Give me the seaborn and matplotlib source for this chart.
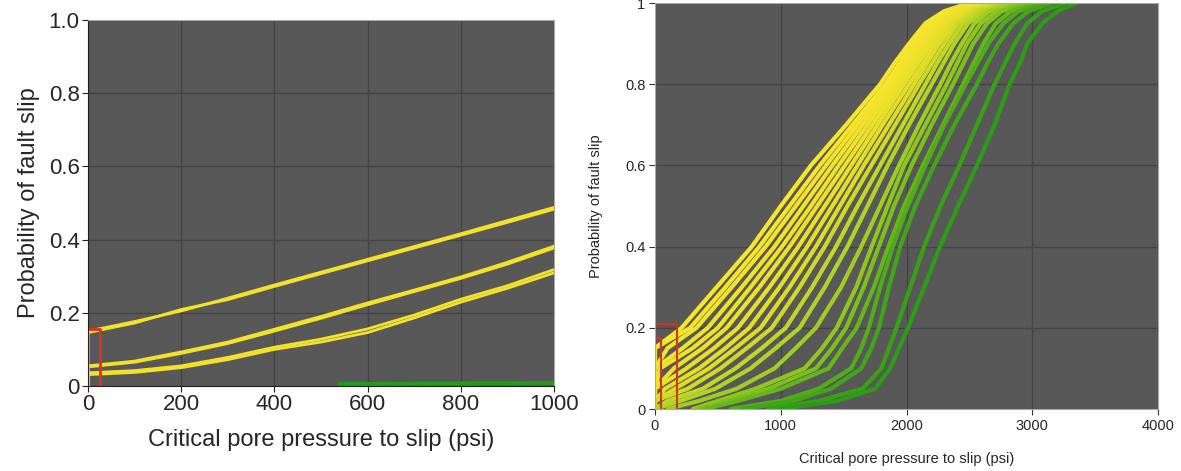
import numpy as np
import pandas as pd
import matplotlib
matplotlib.use("Agg")
import matplotlib.pyplot as plt
import seaborn as sns

# ---- left panel: three bundles of yellow curves (psi vs probability)
left_x = [0, 100, 200, 300, 400, 500, 600, 700, 800, 900, 1000]
left_top_a = [0.150, 0.176, 0.205, 0.240, 0.276, 0.311, 0.346, 0.381, 0.416, 0.452, 0.488]
left_top_b = [0.146, 0.172, 0.209, 0.236, 0.272, 0.307, 0.342, 0.377, 0.412, 0.447, 0.483]
left_mid_a = [0.055, 0.068, 0.093, 0.120, 0.155, 0.190, 0.227, 0.262, 0.298, 0.338, 0.382]
left_mid_b = [0.052, 0.065, 0.089, 0.116, 0.150, 0.185, 0.222, 0.258, 0.294, 0.333, 0.377]
left_low_a = [0.036, 0.042, 0.055, 0.078, 0.106, 0.128, 0.156, 0.194, 0.237, 0.274, 0.318]
left_low_b = [0.031, 0.037, 0.050, 0.072, 0.100, 0.120, 0.146, 0.186, 0.229, 0.267, 0.309]
left_green_x = [540, 1000]
left_green_y = [0.005, 0.008]
left_box = (25, 0.155)

# ---- right panel: x (psi) at each probability level for every curve
p_levels = [0.0, 0.02, 0.05, 0.1, 0.15, 0.2, 0.3, 0.4, 0.5, 0.6, 0.7, 0.8, 0.85, 0.9, 0.95, 0.98, 1.0]
right_curves = {
    "Y01": [0, 0, 0, 0, 0, 212, 490, 770, 1000, 1240, 1520, 1790, 1900, 2020, 2150, 2300, 2500],
    "Y02": [0, 0, 0, 0, 0, 280, 560, 830, 1070, 1310, 1570, 1830, 1940, 2050, 2180, 2330, 2540],
    "Y03": [0, 0, 0, 0, 100, 330, 610, 880, 1120, 1360, 1610, 1860, 1970, 2080, 2210, 2350, 2570],
    "Y04": [0, 0, 0, 0, 220, 420, 690, 950, 1180, 1410, 1650, 1890, 2000, 2110, 2240, 2380, 2600],
    "Y05": [0, 0, 0, 40, 300, 500, 760, 1010, 1240, 1460, 1690, 1920, 2030, 2140, 2260, 2400, 2630],
    "Y06": [0, 0, 0, 150, 380, 570, 830, 1070, 1290, 1510, 1730, 1950, 2060, 2170, 2290, 2430, 2650],
    "Y07": [0, 0, 0, 250, 470, 660, 910, 1140, 1350, 1560, 1770, 1980, 2090, 2200, 2320, 2460, 2680],
    "Y08": [0, 0, 80, 350, 560, 750, 990, 1210, 1410, 1610, 1810, 2020, 2130, 2230, 2350, 2490, 2700],
    "Y09": [0, 0, 160, 430, 640, 840, 1070, 1280, 1470, 1660, 1860, 2060, 2160, 2260, 2380, 2510, 2720],
    "Y10": [0, 0, 260, 520, 730, 930, 1150, 1350, 1530, 1720, 1910, 2100, 2200, 2300, 2410, 2540, 2750],
    "Y11": [0, 100, 380, 640, 850, 1040, 1250, 1440, 1610, 1790, 1970, 2150, 2240, 2340, 2450, 2580, 2780],
    "Y12": [0, 200, 480, 760, 960, 1150, 1350, 1530, 1690, 1850, 2020, 2200, 2290, 2380, 2490, 2620, 2820],
    "YG1": [100, 350, 650, 950, 1120, 1280, 1480, 1640, 1790, 1940, 2100, 2270, 2350, 2440, 2540, 2660, 2860],
    "G01": [300, 500, 800, 1190, 1330, 1445, 1600, 1723, 1850, 1980, 2150, 2320, 2400, 2480, 2590, 2720, 2920],
    "G02": [350, 580, 900, 1280, 1410, 1520, 1660, 1780, 1900, 2040, 2200, 2370, 2450, 2530, 2640, 2760, 2960],
    "G03": [400, 660, 1000, 1380, 1490, 1604, 1740, 1856, 1980, 2130, 2290, 2450, 2530, 2610, 2710, 2830, 3020],
    "D01": [600, 1000, 1300, 1560, 1640, 1700, 1790, 1890, 2010, 2150, 2300, 2470, 2560, 2650, 2770, 2890, 3080],
    "D02": [700, 1100, 1400, 1640, 1720, 1780, 1860, 1950, 2070, 2220, 2380, 2560, 2640, 2730, 2850, 2970, 3150],
    "D03": [900, 1300, 1650, 1800, 1860, 1920, 2030, 2140, 2270, 2420, 2560, 2700, 2780, 2860, 2960, 3080, 3260],
    "D04": [1000, 1450, 1750, 1870, 1940, 2012, 2140, 2266, 2410, 2560, 2700, 2820, 2900, 2960, 3080, 3200, 3350],
}
right_box_big = (175, 0.21)
right_box_small = (48, 0.175)

# ---- build tables
left_df = pd.concat([
    pd.DataFrame({"x": [0] + left_x, "p": [0] + ys, "curve": name})
    for name, ys in [("ta", left_top_a), ("tb", left_top_b), ("ma", left_mid_a),
                     ("mb", left_mid_b), ("la", left_low_a), ("lb", left_low_b)]
])
right_df = pd.concat([
    pd.DataFrame({"x": xs, "p": p_levels, "curve": name})
    for name, xs in right_curves.items()
])

yellow = "#f2e22a"
palette = sns.blend_palette(["#f6e62c", "#f2e32b", "#ece12a", "#dcdc29", "#b2d426",
                             "#86c41f", "#4aaa18", "#2c9c14"],
                            n_colors=len(right_curves))

sns.set_style("white")
plt.rcParams["font.family"] = ["Liberation Sans", "DejaVu Sans"]

fig = plt.figure(figsize=(11.81, 4.71), dpi=100)
ax1 = fig.add_axes([0.0745, 0.1805, 0.3946, 0.777])
ax2 = fig.add_axes([0.5546, 0.1316, 0.426, 0.862])

bg = "#585858"
grid = "#444444"
for ax in (ax1, ax2):
    ax.set_facecolor(bg)
    ax.grid(True, color=grid, lw=1)
    ax.set_axisbelow(True)

# left panel
sns.lineplot(data=left_df, x="x", y="p", units="curve", estimator=None, sort=False,
             color=yellow, lw=2, ax=ax1, legend=False)
ax1.plot(left_green_x, left_green_y, color="#1e9e12", lw=3)
bw, bh = left_box
ax1.plot([0, bw, bw], [bh, bh, 0], color="#e0301e", lw=2)
ax1.set_xlim(0, 1000)
ax1.set_ylim(0, 1.0)
ax1.set_xticks([0, 200, 400, 600, 800, 1000])
ax1.set_yticks([0, 0.2, 0.4, 0.6, 0.8, 1.0])
ax1.set_yticklabels(["0", "0.2", "0.4", "0.6", "0.8", "1.0"])
ax1.tick_params(labelsize=16, direction="out", length=4, color="#222222", pad=2,
                bottom=True, left=True)
ax1.set_xlabel("Critical pore pressure to slip (psi)", fontsize=17, labelpad=10)
ax1.set_ylabel("Probability of fault slip", fontsize=17, labelpad=6)
for side in ("left", "bottom"):
    ax1.spines[side].set_color("#222222")
for side in ("top", "right"):
    ax1.spines[side].set_color("#aaaaaa")

# right panel
sns.lineplot(data=right_df, x="x", y="p", hue="curve", palette=palette, estimator=None,
             sort=False, lw=3, ax=ax2, legend=False)
bw, bh = right_box_big
ax2.plot([0, bw, bw], [bh, bh, 0], color="#d8321e", lw=1.5)
bw, bh = right_box_small
ax2.plot([0, bw, bw], [bh, bh, 0], color="#d8321e", lw=1.5)
ax2.set_xlim(0, 4000)
ax2.set_ylim(0, 1)
ax2.set_xticks([0, 1000, 2000, 3000, 4000])
ax2.set_yticks([0, 0.2, 0.4, 0.6, 0.8, 1.0])
ax2.set_yticklabels(["0", "0.2", "0.4", "0.6", "0.8", "1"])
ax2.tick_params(labelsize=10.5, direction="out", length=4, color="#333333", pad=3,
                bottom=True, left=True)
ax2.set_xlabel("Critical pore pressure to slip (psi)", fontsize=10.5, labelpad=14)
ax2.set_ylabel("Probability of fault slip", fontsize=10.5, labelpad=16)
for side in ax2.spines:
    ax2.spines[side].set_color("#aaaaaa")

fig.savefig("out.png", dpi=100)
